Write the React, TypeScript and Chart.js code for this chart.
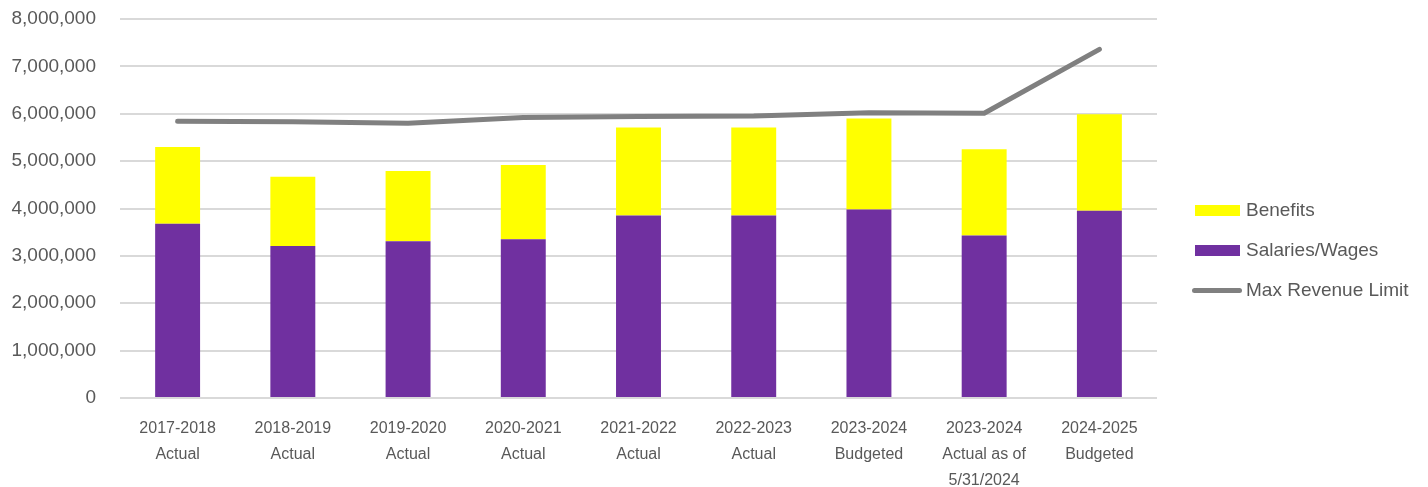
import React, { useEffect, useRef } from "react";
import { Chart, registerables } from "chart.js";

Chart.register(...registerables);

const categories: string[][] = [
  ["2017-2018", "Actual"],
  ["2018-2019", "Actual"],
  ["2019-2020", "Actual"],
  ["2020-2021", "Actual"],
  ["2021-2022", "Actual"],
  ["2022-2023", "Actual"],
  ["2023-2024", "Budgeted"],
  ["2023-2024", "Actual as of", "5/31/2024"],
  ["2024-2025", "Budgeted"],
];

const salariesWages = [3680000, 3210000, 3310000, 3350000, 3850000, 3850000, 3980000, 3430000, 3950000];
const benefits = [1620000, 1460000, 1480000, 1570000, 1860000, 1860000, 1920000, 1820000, 2040000];
const maxRevenueLimit = [5840000, 5830000, 5800000, 5920000, 5940000, 5950000, 6020000, 6010000, 7360000];

const yTicks = [0, 1000000, 2000000, 3000000, 4000000, 5000000, 6000000, 7000000, 8000000];

const COLORS = {
  benefits: "#FFFF00",
  salaries: "#7030A0",
  line: "#808080",
  text: "#595959",
  grid: "#d9d9d9",
};

const FONT = "'Liberation Sans', Arial, sans-serif";

const legendItems = [
  { label: "Benefits", color: COLORS.benefits, kind: "box" },
  { label: "Salaries/Wages", color: COLORS.salaries, kind: "box" },
  { label: "Max Revenue Limit", color: COLORS.line, kind: "line" },
];

export default function App() {
  const ref = useRef<HTMLCanvasElement | null>(null);

  useEffect(() => {
    if (!ref.current) return;
    const chart = new Chart(ref.current, {
      type: "bar",
      data: {
        labels: categories,
        datasets: [
          {
            type: "line",
            label: "Max Revenue Limit",
            data: maxRevenueLimit,
            borderColor: COLORS.line,
            backgroundColor: COLORS.line,
            borderWidth: 5,
            pointRadius: 0,
            borderCapStyle: "round",
            borderJoinStyle: "round",
            tension: 0,
            stack: "limit",
            order: 0,
          } as any,
          {
            type: "bar",
            label: "Salaries/Wages",
            data: salariesWages,
            backgroundColor: COLORS.salaries,
            stack: "pay",
            order: 1,
            barPercentage: 0.39,
            categoryPercentage: 1,
          },
          {
            type: "bar",
            label: "Benefits",
            data: benefits,
            backgroundColor: COLORS.benefits,
            stack: "pay",
            order: 1,
            barPercentage: 0.39,
            categoryPercentage: 1,
          },
        ],
      },
      options: {
        responsive: false,
        animation: false,
        layout: { padding: { top: 19, right: 271, left: 0, bottom: 0 } },
        plugins: {
          legend: { display: false },
          tooltip: { enabled: false },
        },
        scales: {
          x: {
            stacked: true,
            grid: { display: false, drawTicks: false },
            border: { display: false },
            ticks: {
              color: COLORS.text,
              font: { family: FONT, size: 16, lineHeight: 26 / 16 },
              padding: 18,
              maxRotation: 0,
              autoSkip: false,
            },
            afterFit: (scale: any) => {
              scale.height = 89;
            },
          },
          y: {
            stacked: true,
            min: 0,
            max: 8000000,
            grid: {
              color: COLORS.grid,
              lineWidth: 2,
              drawTicks: true,
              tickLength: 24,
              tickColor: "rgba(0,0,0,0)",
            },
            border: { display: false },
            afterBuildTicks: (scale: any) => {
              scale.ticks = yTicks.map((v) => ({ value: v }));
            },
            ticks: {
              color: COLORS.text,
              font: { family: FONT, size: 19 },
              padding: 0,
              callback: (v: any) => Number(v).toLocaleString("en-US"),
            },
            afterFit: (scale: any) => {
              scale.width = 120;
            },
          },
        },
      },
    });
    return () => chart.destroy();
  }, []);

  const centers = [210, 250, 290];

  return (
    <div style={{ position: "fixed", left: 0, top: 0, width: 1428, height: 487, background: "#fff" }}>
      <canvas ref={ref} width={1428} height={487} style={{ width: 1428, height: 487, display: "block" }} />
      {legendItems.map((it, i) => (
        <div
          key={it.label}
          style={{
            position: "absolute",
            left: it.kind === "line" ? 1192 : 1195,
            top: centers[i] - 12,
            height: 24,
            display: "flex",
            alignItems: "center",
            fontFamily: FONT,
            fontSize: 19,
            color: COLORS.text,
            whiteSpace: "nowrap",
          }}
        >
          {it.kind === "box" ? (
            <span style={{ display: "inline-block", width: 45, height: 11, background: it.color }} />
          ) : (
            <span style={{ display: "inline-block", width: 50, height: 5, borderRadius: 3, background: it.color }} />
          )}
          <span style={{ marginLeft: it.kind === "line" ? 4 : 6 }}>{it.label}</span>
        </div>
      ))}
    </div>
  );
}
